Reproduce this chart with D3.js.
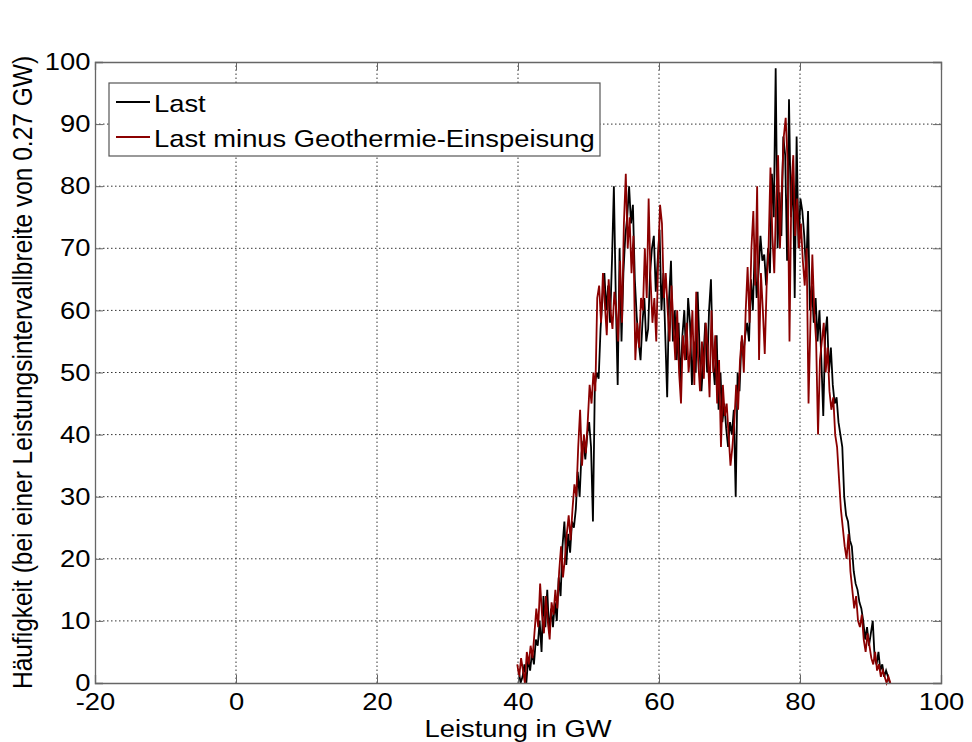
<!DOCTYPE html>
<html>
<head>
<meta charset="utf-8">
<script src="https://cdn.jsdelivr.net/npm/d3@7/dist/d3.min.js"></script>
<style>
  body { margin: 0; background: #fff; }
  text { font-family: "Liberation Sans", Arial, sans-serif; }
</style>
</head>
<body>
<div class="container"></div>
<script>
// daten: histogramm, klassenbreite 0.27 GW
const binWidth = 0.27
const lastStart = 40.1
const lastValues = [
  2,0,1,3,0,4,2,5,3,7,
  6,10,5,14,9,15,8,12,9,13,
  10,17,14,22,26,19,24,21,26,25,
  28,34,30,37,39,36,40,42,38,26,
  48,50,49,57,62,66,60,64,58,68,
  80,62,48,70,55,66,72,75,80,74,
  77,65,59,55,52,58,62,55,57,66,
  70,72,63,68,73,60,66,56,46,62,
  68,55,60,52,58,48,56,60,52,62,
  58,48,55,50,63,54,47,52,58,50,
  60,65,52,48,56,44,50,42,45,41,
  38,42,40,44,30,50,47,55,53,56,
  58,55,65,60,70,62,66,72,68,69,
  64,70,66,82,75,99,70,79,72,88,
  85,68,94,75,82,62,88,70,78,76,
  72,66,76,60,64,58,62,55,60,52,
  43,56,59,50,54,48,45,46,42,40,
  38,30,27,26,23,22,18,16,15,13,
  12,10,7,9,6,8,10,4,3,5,
  2,3,1,2,1,0
]
const geoStart = 39.9
const geoValues = [
  3,1,4,2,0,5,3,6,4,8,
  12,9,16,11,8,14,10,7,13,11,
  15,12,18,22,17,20,24,27,23,28,
  32,30,38,44,35,40,37,42,48,45,
  50,47,62,64,58,66,61,56,65,60,
  57,63,60,55,68,58,74,82,70,75,
  66,72,52,58,54,62,60,70,62,78,
  65,58,62,55,68,77,74,62,66,60,
  55,64,58,52,60,50,45,56,52,58,
  50,54,60,48,63,52,47,55,49,58,
  54,46,60,50,56,45,52,38,48,43,
  45,40,35,38,42,48,44,52,56,50,
  60,67,58,70,76,64,80,52,66,60,
  53,64,70,83,72,66,78,85,70,80,
  88,91,84,55,80,85,72,78,70,74,
  68,64,70,45,58,69,60,55,40,52,
  55,58,50,54,47,44,46,40,38,33,
  28,25,22,20,24,18,15,12,14,10,
  9,11,7,5,8,6,4,3,5,2,
  3,1,2,1,0,1,0
]
const xTicks = [-20, 0, 20, 40, 60, 80, 100]
const yTicks = [0, 10, 20, 30, 40, 50, 60, 70, 80, 90, 100]
const seriesNames = ["Last", "Last minus Geothermie-Einspeisung"]
const seriesColors = ["#000000", "#8b0000"]

const width = 972
const height = 742
const margin = { top: 62, bottom: 59, left: 95, right: 31 }
const stretch = 1.14   // schrift im original leicht breit gezogen

const svg = d3.select(".container").append("svg").attr("width", width).attr("height", height)
svg.append("rect").attr("width", width).attr("height", height).attr("fill", "#fff")

const x = d3.scaleLinear().domain([-20, 100]).range([margin.left, width - margin.right])
const y = d3.scaleLinear().domain([0, 100]).range([height - margin.bottom, margin.top])

// gitter
const grid = svg.append("g").attr("id", "grid")
grid.selectAll("line.gx").data(xTicks.slice(1, -1)).join("line")
  .attr("x1", d => x(d)).attr("x2", d => x(d))
  .attr("y1", y(0)).attr("y2", y(100))
  .attr("stroke", "#333").attr("stroke-width", 1).attr("stroke-dasharray", "1.5,2.5")
grid.selectAll("line.gy").data(yTicks.slice(1, -1)).join("line")
  .attr("y1", d => y(d)).attr("y2", d => y(d))
  .attr("x1", x(-20)).attr("x2", x(100))
  .attr("stroke", "#333").attr("stroke-width", 1).attr("stroke-dasharray", "1.5,2.5")

// linien
const toPoints = (start, vals) => vals.map((v, i) => [start + i * binWidth, v])
const line = d3.line().x(d => x(d[0])).y(d => y(d[1]))
const lines = [toPoints(lastStart, lastValues), toPoints(geoStart, geoValues)]
svg.append("g").attr("id", "lines").selectAll("path").data(lines).join("path")
  .attr("d", line)
  .attr("fill", "none")
  .attr("stroke", (d, i) => seriesColors[i])
  .attr("stroke-width", 1.8)

// achsen (ticks nach innen, wie matlab)
const axisGroup = svg.append("g").attr("id", "axisGroup")
const tickSize = 8
const fmt = d => String(d)
const xAxis = d3.axisBottom(x).tickValues(xTicks).tickSize(-tickSize).tickPadding(10).tickFormat(fmt)
const yAxis = d3.axisLeft(y).tickValues(yTicks).tickSize(-tickSize).tickPadding(4).tickFormat(fmt)
const xAxisTop = d3.axisTop(x).tickValues(xTicks).tickSize(-tickSize).tickFormat("")
const yAxisRight = d3.axisRight(y).tickValues(yTicks).tickSize(-tickSize).tickFormat("")

axisGroup.append("g").attr("transform", `translate(0,${y(0)})`).call(xAxis)
axisGroup.append("g").attr("transform", `translate(${x(-20)},0)`).call(yAxis)
axisGroup.append("g").attr("transform", `translate(0,${y(100)})`).call(xAxisTop)
axisGroup.append("g").attr("transform", `translate(${x(100)},0)`).call(yAxisRight)

axisGroup.selectAll(".domain").attr("stroke", "#666").attr("stroke-width", 1.3)
axisGroup.selectAll(".tick line").attr("stroke", "#666")
axisGroup.selectAll(".tick text").attr("font-size", 24).attr("fill", "#000")
  .attr("transform", `scale(${stretch},1)`)
  .style("font-family", "'Liberation Sans', Arial, sans-serif")

// beschriftung
svg.append("text")
  .attr("transform", `translate(${(x(-20) + x(100)) / 2},737) scale(${stretch},1)`)
  .attr("text-anchor", "middle").attr("font-size", 24)
  .text("Leistung in GW")
svg.append("text")
  .attr("transform", `translate(32,${(y(0) + y(100)) / 2}) rotate(-90) scale(1,${stretch})`)
  .attr("text-anchor", "middle").attr("font-size", 24.5)
  .text("Häufigkeit (bei einer Leistungsintervallbreite von 0.27 GW)")

// legende
const legend = svg.append("g").attr("id", "legend")
legend.append("rect").attr("x", 109).attr("y", 83).attr("width", 491).attr("height", 73)
  .attr("fill", "#fff").attr("stroke", "#555").attr("stroke-width", 1.2)
const entry = legend.selectAll("g.entry").data(seriesNames).join("g")
  .attr("transform", (d, i) => `translate(0,${102 + i * 35})`)
entry.append("line").attr("x1", 116).attr("x2", 150)
  .attr("stroke", (d, i) => seriesColors[i]).attr("stroke-width", 1.8)
entry.append("text").attr("transform", `translate(154,10) scale(${stretch},1)`)
  .attr("font-size", 24).text(d => d)
</script>
</body>
</html>
